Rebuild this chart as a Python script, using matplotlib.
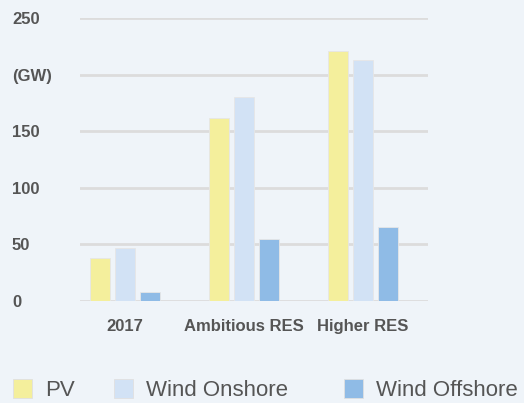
import matplotlib
matplotlib.use("Agg")
import matplotlib.pyplot as plt
import numpy as np
from matplotlib.patches import Patch

categories = ["2017", "Ambitious RES", "Higher RES"]
series_names = ["PV", "Wind Onshore", "Wind Offshore"]
pv = [38, 162, 221]
wind_onshore = [47, 180, 213]
wind_offshore = [8, 55, 65]
ytick_values = [0, 50, 100, 150, 200, 250]
ytick_labels = ["0", "50", "100", "150", "(GW)", "250"]

colors = ["#f4ef9c", "#d2e2f5", "#8fbbe6"]
bg = "#eff4f9"
text_color = "#555555"

plt.rcParams['font.family'] = ['Liberation Sans', 'DejaVu Sans']

fig = plt.figure(figsize=(5.24, 4.03), dpi=100, facecolor=bg)
ax = fig.add_axes([80/524, (403-301)/403, (428-80)/524, 283/403])
ax.set_facecolor(bg)

x = np.arange(len(categories))
width = 0.165
pitch = 0.21
for i, (vals, name) in enumerate(zip([pv, wind_onshore, wind_offshore], series_names)):
    ax.bar(x + (i - 1) * pitch, vals, width, color=colors[i],
           edgecolor="#e6e6e6", linewidth=0.6, zorder=3, label=name)

ax.set_ylim(0, 250)
ax.set_xlim(-0.378, 2.546)
ax.set_yticks(ytick_values)
ax.set_yticklabels(ytick_labels)
ax.set_xticks(x)
ax.set_xticklabels(categories)
ax.yaxis.grid(True, color="#dcdcdc", linewidth=2, zorder=0)
ax.set_axisbelow(True)
for s in ax.spines.values():
    s.set_visible(False)
ax.tick_params(axis='y', length=0, pad=49, labelsize=12, labelcolor=text_color)
ax.tick_params(axis='x', length=0, pad=13, labelsize=12, labelcolor=text_color)
for lbl in ax.get_yticklabels():
    lbl.set_horizontalalignment('left')
    lbl.set_fontweight('bold')
for lbl in ax.get_xticklabels():
    lbl.set_fontweight('bold')

legend_x = [13/524, 114/524, 344/524]
for c, name, lx in zip(colors, series_names, legend_x):
    h = Patch(facecolor=c, edgecolor="#e0e0e0", linewidth=0.6)
    fig.legend([h], [name], loc='center left', bbox_to_anchor=(lx, 13/403),
               frameon=False, fontsize=16, handlelength=0.86, handleheight=0.95,
               handletextpad=0.6, labelcolor=text_color, borderpad=0, borderaxespad=0)

fig.savefig("out.png", dpi=100, facecolor=bg)
